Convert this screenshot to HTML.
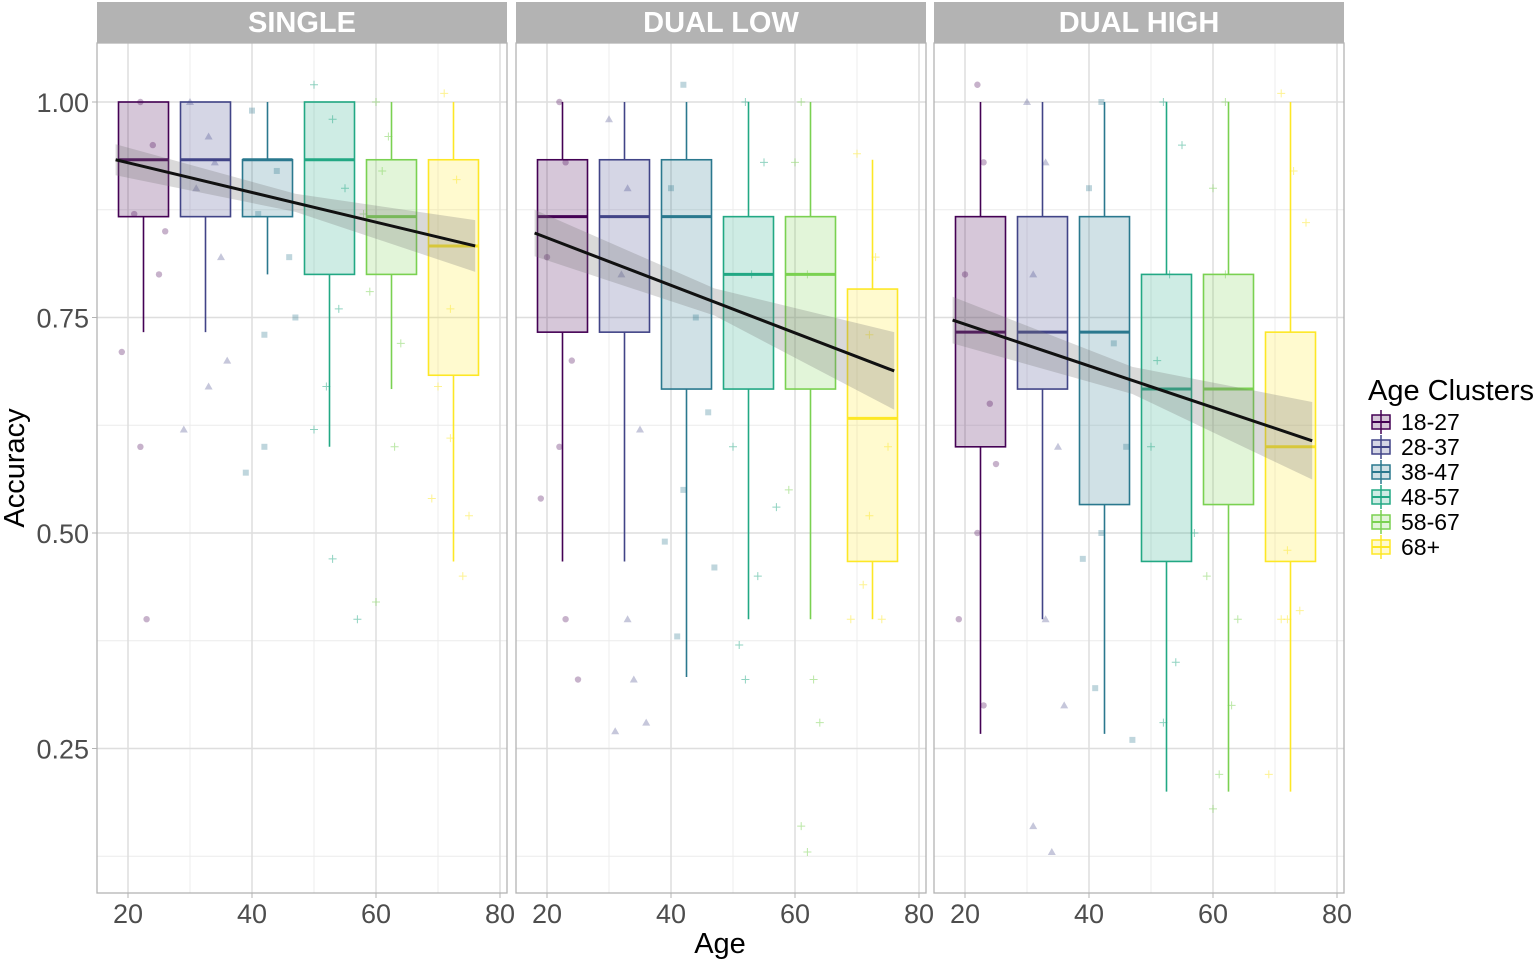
<!DOCTYPE html>
<html><head><meta charset="utf-8">
<style>
html,body{margin:0;padding:0;background:#fff;}
svg{display:block;font-family:"Liberation Sans",sans-serif;}
</style></head>
<body>
<svg id="chart" width="1535" height="962" viewBox="0 0 1535 962"></svg>
<script>
const panelTitles = ["SINGLE","DUAL LOW","DUAL HIGH"];
const clusterLabels = ["18-27","28-37","38-47","48-57","58-67","68+"];
const clusterCenters = [22.5,32.5,42.5,52.5,62.5,72.5];
const clusterColors = ["#440154","#414487","#2A788E","#22A884","#7AD151","#FDE725"];
// per panel: [lowWhisker, q1, median, q3, highWhisker] per cluster
const boxesSingle = [[0.733,0.867,0.933,1.0,1.0],[0.733,0.867,0.933,1.0,1.0],[0.8,0.867,0.933,0.933,1.0],[0.6,0.8,0.933,1.0,1.0],[0.667,0.8,0.867,0.933,1.0],[0.467,0.683,0.833,0.933,1.0]];
const boxesDualLow = [[0.467,0.733,0.867,0.933,1.0],[0.467,0.733,0.867,0.933,1.0],[0.333,0.667,0.867,0.933,1.0],[0.4,0.667,0.8,0.867,1.0],[0.4,0.667,0.8,0.867,1.0],[0.4,0.467,0.633,0.783,0.933]];
const boxesDualHigh = [[0.267,0.6,0.733,0.867,1.0],[0.4,0.667,0.733,0.867,1.0],[0.267,0.533,0.733,0.867,1.0],[0.2,0.467,0.667,0.8,1.0],[0.2,0.533,0.667,0.8,1.0],[0.2,0.467,0.6,0.733,1.0]];
// regression: [age0, fit0, age1, fit1, band half-width at ends]
const regSingle = [18,0.933,76,0.833,0.03];
const regDualLow = [18,0.848,76,0.688,0.045];
const regDualHigh = [18,0.747,76,0.607,0.045];
// sample points [age, accuracy, cluster]
const ptsSingle = [[22,1.0,0],[24,0.95,0],[21,0.87,0],[25,0.8,0],[22,0.6,0],[23,0.4,0],[19,0.71,0],[26,0.85,0],
 [30,1.0,1],[33,0.96,1],[31,0.9,1],[35,0.82,1],[33,0.67,1],[29,0.62,1],[34,0.93,1],[36,0.7,1],
 [40,0.99,2],[44,0.92,2],[42,0.73,2],[42,0.6,2],[46,0.82,2],[39,0.57,2],[47,0.75,2],[41,0.87,2],
 [50,1.02,3],[53,0.98,3],[55,0.9,3],[52,0.67,3],[53,0.47,3],[54,0.76,3],[50,0.62,3],[57,0.4,3],
 [60,1.0,4],[62,0.96,4],[58,0.87,4],[63,0.6,4],[60,0.42,4],[64,0.72,4],[59,0.78,4],[61,0.92,4],
 [71,1.01,5],[73,0.91,5],[75,0.52,5],[69,0.54,5],[72,0.76,5],[74,0.45,5],[70,0.67,5],[72,0.61,5]];
const ptsDualLow = [[22,1.0,0],[23,0.93,0],[20,0.82,0],[24,0.7,0],[22,0.6,0],[23,0.4,0],[19,0.54,0],[25,0.33,0],
 [30,0.98,1],[33,0.9,1],[32,0.8,1],[35,0.62,1],[33,0.4,1],[34,0.33,1],[31,0.27,1],[36,0.28,1],
 [42,1.02,2],[40,0.9,2],[44,0.75,2],[42,0.55,2],[47,0.46,2],[41,0.38,2],[39,0.49,2],[46,0.64,2],
 [52,1.0,3],[55,0.93,3],[53,0.8,3],[50,0.6,3],[54,0.45,3],[52,0.33,3],[57,0.53,3],[51,0.37,3],
 [61,1.0,4],[60,0.93,4],[62,0.8,4],[59,0.55,4],[63,0.33,4],[61,0.16,4],[62,0.13,4],[64,0.28,4],
 [70,0.94,5],[73,0.82,5],[72,0.52,5],[71,0.44,5],[74,0.4,5],[69,0.4,5],[75,0.6,5],[72,0.73,5]];
const ptsDualHigh = [[22,1.02,0],[23,0.93,0],[20,0.8,0],[24,0.65,0],[22,0.5,0],[23,0.3,0],[19,0.4,0],[25,0.58,0],
 [30,1.0,1],[33,0.93,1],[31,0.8,1],[35,0.6,1],[33,0.4,1],[31,0.16,1],[34,0.13,1],[36,0.3,1],
 [42,1.0,2],[40,0.9,2],[44,0.72,2],[42,0.5,2],[47,0.26,2],[41,0.32,2],[39,0.47,2],[46,0.6,2],
 [52,1.0,3],[55,0.95,3],[53,0.8,3],[50,0.6,3],[54,0.35,3],[52,0.28,3],[57,0.5,3],[51,0.7,3],
 [62,1.0,4],[60,0.9,4],[62,0.8,4],[59,0.45,4],[63,0.3,4],[61,0.22,4],[60,0.18,4],[64,0.4,4],
 [71,1.01,5],[73,0.92,5],[72,0.48,5],[71,0.4,5],[74,0.41,5],[69,0.22,5],[75,0.86,5],[72,0.4,5]];
const xTicks = [20,40,60,80];
const xMinor = [30,50,70];
const yTicks = [0.25,0.5,0.75,1.0];
const yTickLabels = ["0.25","0.50","0.75","1.00"];
const yMinor = [0.125,0.375,0.625,0.875];

const NS="http://www.w3.org/2000/svg";
const svg=document.getElementById('chart');
function mk(tag,attrs,parent){const e=document.createElementNS(NS,tag);for(const k in attrs)e.setAttribute(k,attrs[k]);(parent||svg).appendChild(e);return e;}
const panelX=[97,516,934], panelW=410, pTop=43, pBottom=893;
const yS=v=>102+(1-v)*862;
const boxes=[boxesSingle,boxesDualLow,boxesDualHigh];
const regs=[regSingle,regDualLow,regDualHigh];
const pts=[ptsSingle,ptsDualLow,ptsDualHigh];

panelTitles.forEach((t,p)=>{
  const x0=panelX[p];
  const xS=a=>x0+31+(a-20)*6.2;
  const g=mk('g',{});
  
  
  const strip=mk('rect',{x:x0,y:2,width:panelW,height:41,fill:'#b3b3b3'},g);
  
  
  const st=mk('text',{x:x0+panelW/2,y:32,'text-anchor':'middle','font-size':29,'font-weight':'bold',fill:'#fff'},g);
  st.textContent=t;
  
  
  yMinor.forEach(v=>mk('line',{x1:x0,x2:x0+panelW,y1:yS(v),y2:yS(v),stroke:'#ececec','stroke-width':1},g));
  xMinor.forEach(a=>mk('line',{x1:xS(a),x2:xS(a),y1:pTop,y2:pBottom,stroke:'#ececec','stroke-width':1},g));
  yTicks.forEach(v=>mk('line',{x1:x0,x2:x0+panelW,y1:yS(v),y2:yS(v),stroke:'#dedede','stroke-width':1.5},g));
  xTicks.forEach(a=>mk('line',{x1:xS(a),x2:xS(a),y1:pTop,y2:pBottom,stroke:'#dedede','stroke-width':1.5},g));
  pts[p].forEach(d=>{
    const cx=xS(d[0]),cy=yS(d[1]),c=clusterColors[d[2]];
    let e;
    if(d[2]===0) e=mk('circle',{cx,cy,r:3.2,fill:c,opacity:0.3},g);
    else if(d[2]===1) e=mk('polygon',{points:`${cx},${cy-4} ${cx-4},${cy+3} ${cx+4},${cy+3}`,fill:c,opacity:0.3},g);
    else if(d[2]===2) e=mk('rect',{x:cx-3,y:cy-3,width:6,height:6,fill:c,opacity:0.3},g);
    else e=mk('path',{d:`M${cx-4},${cy}H${cx+4}M${cx},${cy-4}V${cy+4}`,stroke:c,'stroke-width':1,fill:'none',opacity:0.5},g);
    
    
  });
  boxes[p].forEach((b,i)=>{
    const cx=xS(clusterCenters[i]),hw=25,c=clusterColors[i];
    const bg=mk('g',{},g);
    
    
    mk('line',{x1:cx,x2:cx,y1:yS(b[4]),y2:yS(b[3]),stroke:c,'stroke-width':1.6},bg);
    mk('line',{x1:cx,x2:cx,y1:yS(b[1]),y2:yS(b[0]),stroke:c,'stroke-width':1.6},bg);
    mk('rect',{x:cx-hw,y:yS(b[3]),width:2*hw,height:yS(b[1])-yS(b[3]),fill:c,'fill-opacity':0.22,stroke:c,'stroke-width':1.6},bg);
    mk('line',{x1:cx-hw,x2:cx+hw,y1:yS(b[2]),y2:yS(b[2]),stroke:c,'stroke-width':3},bg);
  });
  const r=regs[p];
  const band=mk('polygon',{points:`${xS(r[0])},${yS(r[1]+r[4]*0.6)} ${xS((r[0]+r[2])/2)},${yS((r[1]+r[3])/2+r[4]*0.35)} ${xS(r[2])},${yS(r[3]+r[4])} ${xS(r[2])},${yS(r[3]-r[4])} ${xS((r[0]+r[2])/2)},${yS((r[1]+r[3])/2-r[4]*0.35)} ${xS(r[0])},${yS(r[1]-r[4]*0.6)}`,fill:'#777',opacity:0.28},g);
  
  
  const rl=mk('line',{x1:xS(r[0]),y1:yS(r[1]),x2:xS(r[2]),y2:yS(r[3]),stroke:'#111','stroke-width':3},g);
  
  
  mk('rect',{x:x0,y:pTop,width:panelW,height:pBottom-pTop,fill:'none',stroke:'#b3b3b3','stroke-width':1.3},g);
  xTicks.forEach(a=>{
    mk('line',{x1:xS(a),x2:xS(a),y1:pBottom,y2:pBottom+5,stroke:'#b3b3b3'},g);
    const tx=mk('text',{x:xS(a),y:923,'text-anchor':'middle','font-size':27,fill:'#4d4d4d'},g);
    tx.textContent=a;
    
    
  });
});
yTicks.forEach((v,i)=>{
  mk('line',{x1:92,x2:97,y1:yS(v),y2:yS(v),stroke:'#b3b3b3'});
  const t=mk('text',{x:89,y:yS(v)+10,'text-anchor':'end','font-size':27,fill:'#4d4d4d'});
  t.textContent=yTickLabels[i];
  
  
});
const yt=mk('text',{x:24,y:468,'text-anchor':'middle','font-size':29,fill:'#000',transform:'rotate(-90 24 468)'});
yt.textContent='Accuracy';


const xt=mk('text',{x:720,y:953,'text-anchor':'middle','font-size':29,fill:'#000'});
xt.textContent='Age';


const lg=mk('g',{});


const lt=mk('text',{x:1368,y:400,'font-size':29,fill:'#000'},lg);
lt.textContent='Age Clusters';
clusterLabels.forEach((l,i)=>{
  const y=422+i*25,c=clusterColors[i];
  const eg=mk('g',{},lg);
  
  
  mk('line',{x1:1381,x2:1381,y1:y-12,y2:y+12,stroke:c,'stroke-width':1.5},eg);
  mk('rect',{x:1372,y:y-7,width:18,height:14,fill:c,'fill-opacity':0.22,stroke:c,'stroke-width':1.5},eg);
  mk('line',{x1:1372,x2:1390,y1:y,y2:y,stroke:c,'stroke-width':2},eg);
  const t=mk('text',{x:1401,y:y+8,'font-size':23,fill:'#000'},eg);
  t.textContent=l;
});
</script>
</body></html>
